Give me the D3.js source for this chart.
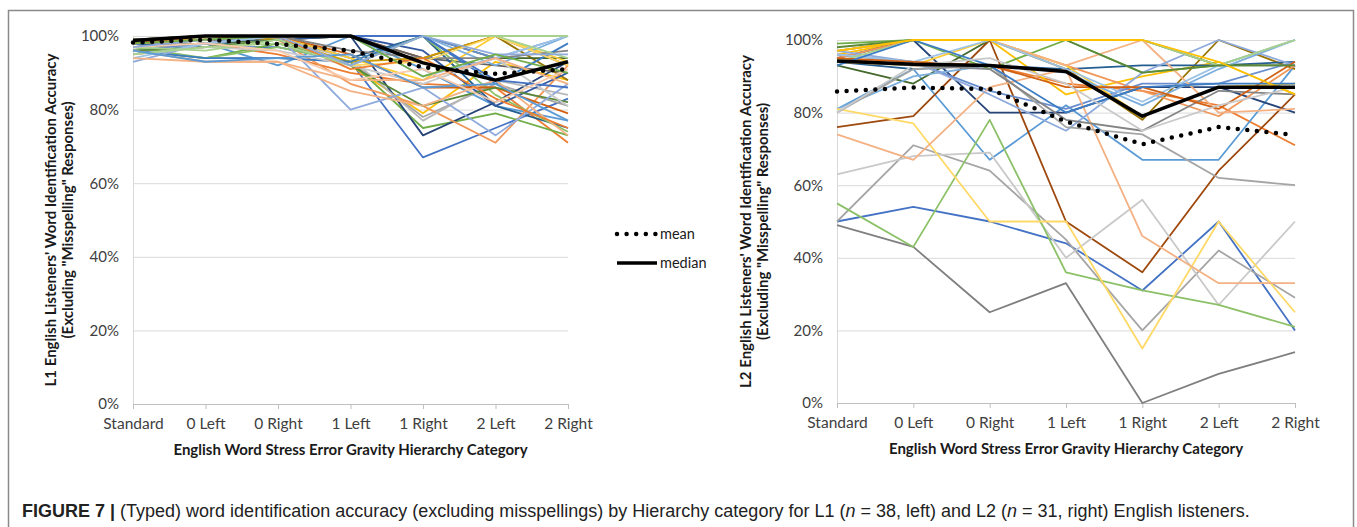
<!DOCTYPE html>
<html>
<head>
<meta charset="utf-8">
<script src="https://cdn.jsdelivr.net/npm/d3@7"></script>
<style>
  body { margin: 0; background: #fff; }
  svg { display: block; }
</style>
</head>
<body>
<svg id="fig" width="1357" height="527"></svg>
<script>
// Hierarchy categories on the x axis
const categories = ["Standard", "0 Left", "0 Right", "1 Left", "1 Right", "2 Left", "2 Right"];
// Percentage gridlines / tick values
const yTicks = [0, 20, 40, 60, 80, 100];

// L1 listeners (n = 38): accuracy (%) per category, one row per listener
const l1Listeners = [
  [98, 97, 97, 93, 67, 75, 83],
  [97, 98, 95, 90, 87, 86, 71],
  [96, 94, 94, 93, 78, 87, 81],
  [99, 99, 100, 92, 79, 93, 88],
  [97, 98, 92, 100, 91, 81, 77],
  [96, 94, 98, 93, 75, 79, 73],
  [99, 100, 100, 100, 73, 82, 93],
  [98, 99, 99, 100, 94, 100, 92],
  [97, 99, 100, 100, 94, 92, 90],
  [99, 100, 100, 100, 100, 100, 88],
  [98, 97, 100, 94, 100, 81, 75],
  [97, 98, 99, 100, 100, 94, 94],
  [96, 98, 100, 100, 100, 94, 100],
  [95, 97, 99, 87, 81, 71, 92],
  [96, 97, 99, 94, 77, 88, 84],
  [99, 100, 100, 94, 88, 100, 93],
  [95, 98, 100, 100, 100, 92, 100],
  [97, 94, 97, 93, 100, 84, 74],
  [98, 99, 99, 100, 96, 81, 90],
  [98, 99, 100, 95, 86, 86, 79],
  [97, 98, 100, 96, 94, 94, 96],
  [99, 100, 99, 93, 94, 100, 100],
  [96, 94, 94, 93, 100, 87, 98],
  [96, 97, 99, 92, 81, 86, 82],
  [93, 98, 100, 80, 86, 73, 87],
  [96, 93, 93, 85, 81, 88, 73],
  [95, 97, 96, 92, 87, 94, 81],
  [98, 99, 100, 92, 93, 100, 92],
  [94, 98, 100, 100, 89, 94, 100],
  [97, 96, 99, 92, 100, 100, 94],
  [99, 100, 100, 100, 100, 88, 86],
  [98, 100, 100, 91, 94, 83, 75],
  [94, 93, 93, 88, 88, 94, 87],
  [95, 97, 98, 92, 100, 100, 100],
  [96, 93, 94, 95, 86, 87, 77],
  [97, 98, 96, 88, 91, 82, 91],
  [97, 99, 100, 92, 100, 95, 95],
  [98, 99, 100, 100, 89, 95, 90]
];
const l1Mean   = [98.2, 99, 97.8, 96, 91.5, 89.7, 91];
const l1Median = [98.8, 100, 100, 100, 92.7, 88, 93];

// L2 listeners (n = 31)
const l2Listeners = [
  [50, 54, 50, 44, 31, 50, 20],
  [95, 93, 93, 88, 86, 82, 71],
  [50, 71, 64, 45, 20, 42, 29],
  [96, 100, 100, 85, 90, 94, 85],
  [81, 92, 67, 82, 67, 67, 93],
  [99, 100, 92, 100, 91, 93, 100],
  [95, 100, 80, 80, 87, 87, 80],
  [76, 79, 100, 50, 36, 64, 85],
  [49, 43, 25, 33, 0, 8, 14],
  [97, 100, 100, 92, 78, 100, 92],
  [94, 92, 93, 92, 93, 93, 94],
  [93, 88, 100, 100, 100, 93, 93],
  [96, 94, 86, 81, 88, 88, 94],
  [95, 100, 100, 93, 86, 79, 93],
  [63, 68, 69, 40, 56, 27, 50],
  [94, 93, 100, 93, 79, 87, 88],
  [81, 90, 93, 91, 82, 92, 100],
  [55, 43, 78, 36, 31, 27, 21],
  [81, 77, 50, 50, 15, 50, 25],
  [74, 67, 87, 92, 46, 33, 33],
  [97, 100, 100, 93, 100, 80, 81],
  [97, 94, 85, 75, 91, 100, 93],
  [96, 94, 100, 92, 83, 93, 100],
  [94, 100, 100, 100, 100, 93, 100],
  [80, 92, 93, 76, 74, 62, 60],
  [94, 93, 92, 78, 75, 86, 85],
  [95, 94, 93, 87, 87, 81, 94],
  [93, 100, 93, 80, 87, 88, 88],
  [98, 100, 100, 100, 91, 93, 93],
  [80, 93, 95, 88, 75, 82, 87],
  [97, 100, 100, 100, 100, 94, 85]
];
const l2Mean   = [85.8, 86.9, 86.5, 77.5, 71.3, 76, 73.8];
const l2Median = [94.2, 93.3, 93, 91.3, 79, 87, 87];

// Line colours, one per listener
const l1Colors = [
  "#4472C4", "#ED7D31", "#A5A5A5", "#FFC000", "#5B9BD5", "#70AD47",
  "#264478", "#9E480E", "#636363", "#997300", "#255E91", "#43682B",
  "#698ED0", "#F1975A", "#B7B7B7", "#FFCD33", "#7CAFDD", "#8CC168",
  "#335AA1", "#D26012", "#848484", "#CC9A00", "#3C7DC4", "#5A8A39",
  "#8FAADC", "#F4B183", "#C9C9C9", "#FFD966", "#9DC3E6", "#A9D18E",
  "#4472C4", "#ED7D31", "#F4B183", "#A9D18E", "#5B9BD5", "#F8CBAD",
  "#8FAADC", "#70AD47"
];
const l2Colors = [
  "#4472C4", "#ED7D31", "#A5A5A5", "#FFC000", "#5B9BD5", "#70AD47",
  "#264478", "#9E480E", "#7F7F7F", "#997300", "#255E91", "#43682B",
  "#698ED0", "#F1975A", "#C9C9C9", "#FFCD33", "#7CAFDD", "#8CC168",
  "#FFD966", "#F4B183", "#F4B183", "#8FAADC", "#9DC3E6", "#A9D18E",
  "#A5A5A5", "#848484", "#D26012", "#3C7DC4", "#5A8A39", "#C9C9C9",
  "#FFC000"
];

const svg = d3.select("#fig");
const FONT = "Lato, 'Open Sans', sans-serif";

// figure frame
svg.append("rect")
  .attr("x", 8.5).attr("y", 10.5)
  .attr("width", 1345).attr("height", 600)
  .attr("fill", "none").attr("stroke", "#8a8a8a").attr("stroke-width", 1.5);

function drawPanel(o) {
  const x = d3.scalePoint().domain(categories).range(o.xRange);
  const y = d3.scaleLinear().domain([0, 100]).range(o.yRange);
  const g = svg.append("g");
  const w = o.xRange[1] - o.xRange[0];

  // horizontal gridlines
  g.append("g")
    .attr("transform", `translate(${o.xRange[0]},0)`)
    .call(d3.axisLeft(y).tickValues(yTicks).tickSize(-w).tickFormat(""))
    .call(a => {
      a.select(".domain").remove();
      a.selectAll(".tick line").attr("stroke", "#d9d9d9").attr("stroke-width", 1);
    });

  // y axis with percent labels
  g.append("g")
    .attr("transform", `translate(${o.xRange[0]},0)`)
    .call(d3.axisLeft(y).tickValues(yTicks).tickSizeInner(0).tickSizeOuter(0)
      .tickPadding(14).tickFormat(d => d + "%"))
    .call(a => {
      a.select(".domain").attr("stroke", "#d9d9d9");
      a.selectAll("text").attr("font-family", FONT).attr("font-size", 15).attr("fill", "#404040");
    });

  // x axis with category ticks
  g.append("g")
    .attr("transform", `translate(0,${o.yRange[0]})`)
    .call(d3.axisBottom(x).tickSizeInner(5).tickSizeOuter(0).tickPadding(9))
    .call(a => {
      a.select(".domain").attr("stroke", "#bfbfbf");
      a.selectAll(".tick line").attr("stroke", "#bfbfbf");
      a.selectAll("text").attr("font-family", FONT).attr("font-size", 15.5).attr("fill", "#404040");
    });

  // axis titles
  g.append("text")
    .attr("x", (o.xRange[0] + o.xRange[1]) / 2).attr("y", o.yRange[0] + 51)
    .attr("text-anchor", "middle")
    .attr("font-family", FONT).attr("font-size", 15).attr("font-weight", "bold").attr("fill", "#1a1a1a")
    .text("English Word Stress Error Gravity Hierarchy Category");

  const yt = g.append("g")
    .attr("transform", `translate(${o.titleX},${(o.yRange[0] + o.yRange[1]) / 2}) rotate(-90)`);
  yt.selectAll("text").data(o.yTitle).join("text")
    .attr("x", 0).attr("y", (d, i) => i * 16.5)
    .attr("text-anchor", "middle")
    .attr("font-family", FONT).attr("font-size", 15).attr("font-weight", "bold").attr("fill", "#1a1a1a")
    .text(d => d);

  const line = d3.line()
    .x((d, i) => x(categories[i]))
    .y(d => y(d));

  // one line per listener
  g.append("g").selectAll("path").data(o.series).join("path")
    .attr("d", line)
    .attr("fill", "none")
    .attr("stroke", (d, i) => o.colors[i % o.colors.length])
    .attr("stroke-width", 1.8)
    .attr("stroke-linejoin", "round");

  // mean (dotted) and median (solid)
  g.append("path").attr("d", line(o.mean))
    .attr("fill", "none").attr("stroke", "#000").attr("stroke-width", 4.5)
    .attr("stroke-linecap", "round").attr("stroke-dasharray", "0 9.6");
  g.append("path").attr("d", line(o.median))
    .attr("fill", "none").attr("stroke", "#000").attr("stroke-width", 3.5)
    .attr("stroke-linejoin", "round");
}

drawPanel({
  xRange: [133, 568], yRange: [404, 36],
  series: l1Listeners, colors: l1Colors, mean: l1Mean, median: l1Median,
  titleX: 56,
  yTitle: ["L1 English Listeners' Word Identification Accuracy", "(Excluding \"Misspelling\" Responses)"]
});
drawPanel({
  xRange: [837, 1295], yRange: [403, 40],
  series: l2Listeners, colors: l2Colors, mean: l2Mean, median: l2Median,
  titleX: 751,
  yTitle: ["L2 English Listeners' Word Identification Accuracy", "(Excluding \"Misspelling\" Responses)"]
});

// legend
const legend = svg.append("g").attr("transform", "translate(615,0)");
const legendItems = [
  { label: "mean", dash: "0 9.6", width: 4.5, cap: "round", y: 234 },
  { label: "median", dash: null, width: 3.5, cap: "butt", y: 263 }
];
legendItems.forEach(it => {
  legend.append("line")
    .attr("x1", 2).attr("x2", 42).attr("y1", it.y).attr("y2", it.y)
    .attr("stroke", "#000").attr("stroke-width", it.width)
    .attr("stroke-linecap", it.cap)
    .attr("stroke-dasharray", it.dash);
  legend.append("text")
    .attr("x", 45).attr("y", it.y + 5)
    .attr("font-family", FONT).attr("font-size", 14.5).attr("fill", "#1a1a1a")
    .text(it.label);
});

// caption: condensed horizontally to span the figure width
const capG = svg.append("g");
const cap = capG.append("text")
  .attr("x", 0).attr("y", 0)
  .attr("font-family", "'Liberation Sans Narrow', 'Liberation Sans', Arial, sans-serif")
  .attr("font-size", 18.5).attr("fill", "#222");
cap.append("tspan").attr("font-weight", "bold").text("FIGURE 7 | ");
cap.append("tspan").text("(Typed) word identification accuracy (excluding misspellings) by Hierarchy category for L1 (");
cap.append("tspan").attr("font-style", "italic").text("n");
cap.append("tspan").text(" = 38, left) and L2 (");
cap.append("tspan").attr("font-style", "italic").text("n");
cap.append("tspan").text(" = 31, right) English listeners.");
const capWidth = cap.node().getComputedTextLength();
capG.attr("transform", `translate(22,517) scale(${1228 / capWidth},1)`);
</script>
</body>
</html>
